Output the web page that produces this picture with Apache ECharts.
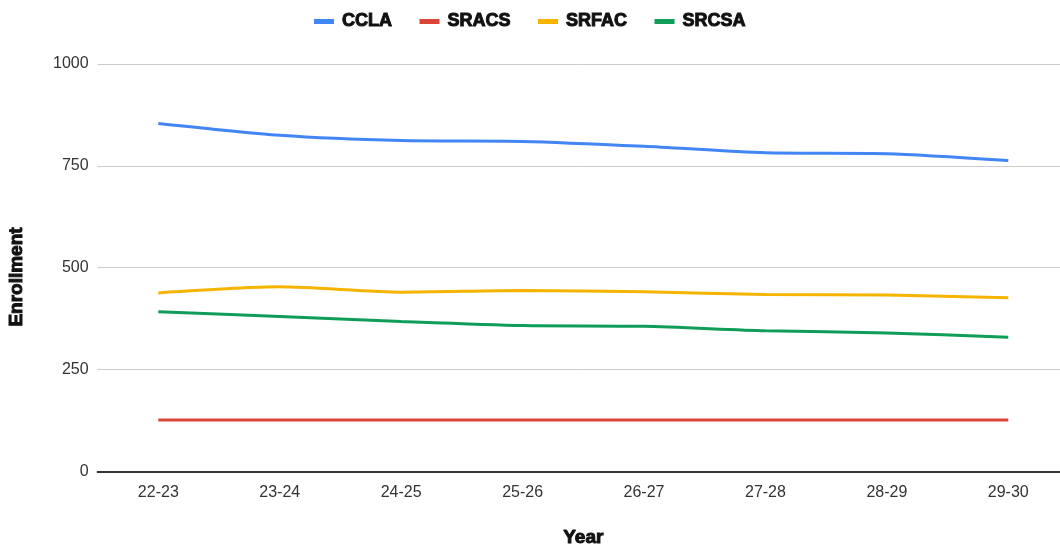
<!DOCTYPE html>
<html>
<head>
<meta charset="utf-8">
<script src="https://cdn.jsdelivr.net/npm/echarts@6/dist/echarts.min.js"></script>
<style>
  html, body { margin: 0; padding: 0; background: #fff; }
  #chart { width: 1060px; height: 549px; }
</style>
</head>
<body>
<div id="chart"></div>
<script>
// Enrollment projections by academic year
const years = ['22-23', '23-24', '24-25', '25-26', '26-27', '27-28', '28-29', '29-30'];
const ccla  = [854, 825, 812, 810, 798, 782, 780, 763];
const sracs = [126, 126, 126, 126, 126, 126, 126, 126];
const srfac = [438, 453, 440, 444, 441, 434, 433, 426];
const srcsa = [392, 380, 368, 358, 356, 345, 340, 329];
const yTicks = [0, 250, 500, 750, 1000];

const FONT = '"Liberation Sans", Arial, sans-serif';
const heavy = (size) => ({
  fontFamily: FONT, fontSize: size, fontWeight: 'bold',
  color: '#111', textBorderColor: '#111', textBorderWidth: 1
});

function lineSeries(name, data, color) {
  return {
    name: name,
    type: 'line',
    data: data,
    smooth: 0.25,
    showSymbol: false,
    symbol: 'none',
    lineStyle: { color: color, width: 3 },
    itemStyle: { color: color }
  };
}

const chart = echarts.init(document.getElementById('chart'), null, { renderer: 'canvas' });
chart.setOption({
  animation: false,
  backgroundColor: '#ffffff',
  color: ['#4285F4', '#DB4437', '#F4B400', '#0F9D58'],
  legend: {
    top: 7,
    left: 'center',
    itemWidth: 20,
    itemHeight: 5,
    itemGap: 27,
    icon: 'rect',
    textStyle: Object.assign(heavy(18), { padding: [0, 0, 0, 3] }),
    data: ['CCLA', 'SRACS', 'SRFAC', 'SRCSA']
  },
  grid: {
    left: 97.6, width: 971.4, top: 64, height: 407.4,
    containLabel: false, outerBoundsMode: 'none'
  },
  graphic: [{
    type: 'text',
    x: 17, y: 277,
    rotation: Math.PI / 2,
    style: {
      text: 'Enrollment', align: 'center', verticalAlign: 'middle',
      font: 'bold 19px ' + FONT,
      fill: '#111', stroke: '#111', lineWidth: 1
    }
  }],
  xAxis: {
    type: 'category',
    data: years,
    boundaryGap: true,
    name: 'Year',
    nameLocation: 'middle',
    nameGap: 57,
    nameTextStyle: heavy(19),
    axisLine: { show: true, lineStyle: { color: '#333', width: 2 } },
    axisTick: { show: false },
    axisLabel: { fontFamily: FONT, fontSize: 16, color: '#333', margin: 13 },
    splitLine: { show: false }
  },
  yAxis: {
    type: 'value',
    min: yTicks[0],
    max: yTicks[yTicks.length - 1],
    interval: 250,
    axisLine: { show: false },
    axisTick: { show: false },
    axisLabel: {
      fontFamily: FONT, fontSize: 16, color: '#333', margin: 9,
      formatter: (v) => String(v)
    },
    splitLine: { show: true, lineStyle: { color: '#cccccc', width: 1 } }
  },
  series: [
    lineSeries('CCLA', ccla, '#4285F4'),
    lineSeries('SRACS', sracs, '#DB4437'),
    lineSeries('SRFAC', srfac, '#F4B400'),
    lineSeries('SRCSA', srcsa, '#0F9D58')
  ]
});
</script>
</body>
</html>
